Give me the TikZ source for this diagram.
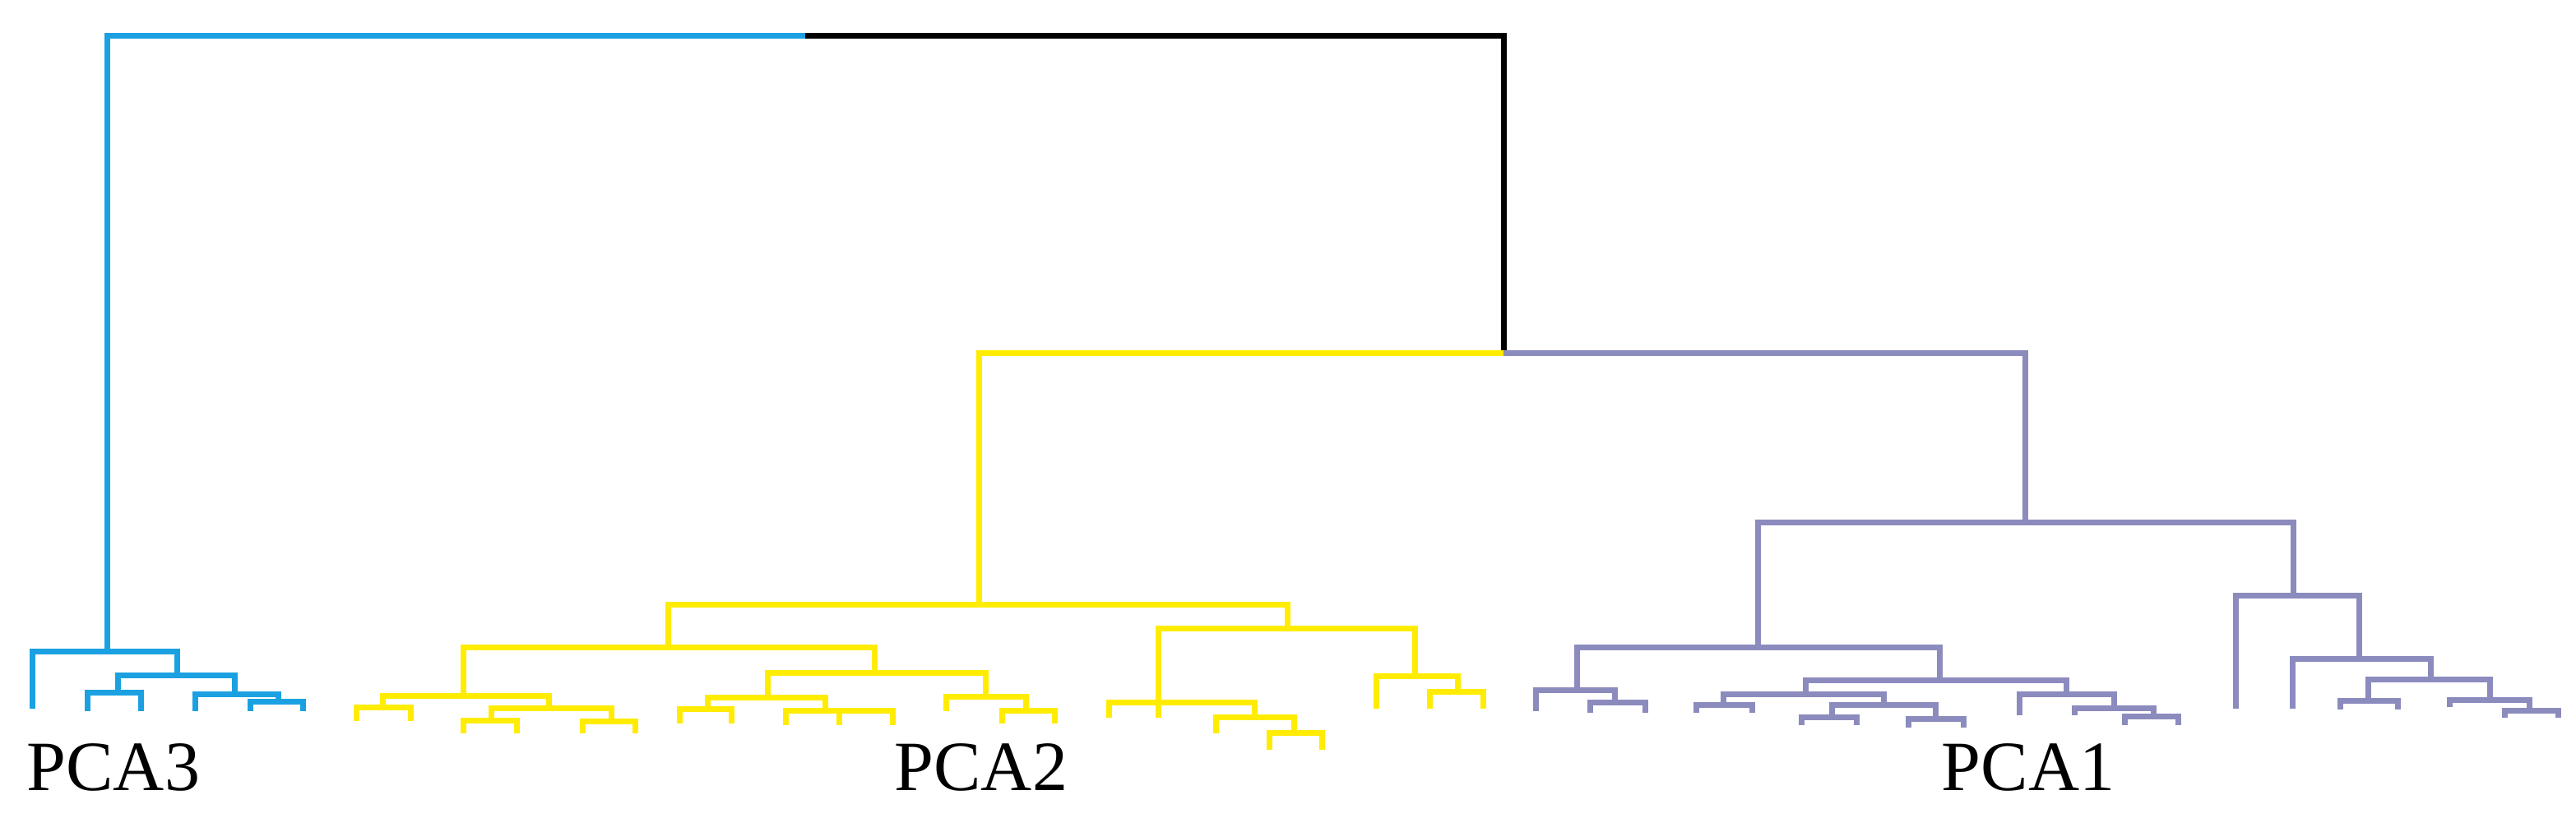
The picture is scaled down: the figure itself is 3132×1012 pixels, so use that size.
\documentclass[tikz,border=0pt]{standalone}
\usepackage{fontspec}
\setmainfont{Liberation Serif}
\definecolor{cBlue}{RGB}{27,161,226}
\definecolor{cYel}{RGB}{255,236,0}
\definecolor{cPur}{RGB}{140,139,190}
\newcommand\brk[6]{\draw[#1] (#2,#3) |- (#4,#6) -- (#4,#5);}
\newcommand\lf[4]{\draw[#1] (#2,#3) -- (#2,#4);}
\begin{document}
\begin{tikzpicture}[x=0.25pt,y=-0.25pt,
  ln/.style={line width=1.75pt,line join=miter},
  pc3/.style={ln,draw=cBlue},
  pc2/.style={ln,draw=cYel},
  pc1/.style={ln,draw=cPur},
  rt/.style={ln,draw=black},
  lab/.style={anchor=base west,inner sep=0pt,font=\fontsize{21.5}{24}\selectfont}]
\useasboundingbox (0,0) rectangle (3132,1012);
% root
\draw[pc3] (130,793) -- (130,44) -- (979,44);
\draw[rt] (979,44) -- (1828,44) -- (1828,430);
\draw[pc2] (1190,736) -- (1190,430) -- (1828,430);
\draw[pc1] (1828,430) -- (2462,430) -- (2462,636);
% PCA3
\brk{pc3}{39}{862}{215}{822}{793}
\brk{pc3}{143}{843}{285}{845}{822}
\brk{pc3}{106}{865}{171}{865}{843}
\brk{pc3}{237}{865}{338}{854}{845}
\brk{pc3}{304}{865}{368}{865}{854}
% PCA2
\brk{pc2}{812}{788}{1565}{765}{736}
\brk{pc2}{563}{847}{1063}{819}{788}
\brk{pc2}{465}{861}{667}{862}{847}
\brk{pc2}{433}{877}{499}{877}{861}
\brk{pc2}{597}{877}{743}{878}{862}
\brk{pc2}{563}{892}{628}{892}{877}
\brk{pc2}{708}{892}{772}{892}{878}
\brk{pc2}{933}{849}{1198}{848}{819}
\brk{pc2}{860}{863}{1003}{865}{849}
\brk{pc2}{826}{880}{889}{880}{863}
\brk{pc2}{955}{882}{1085}{882}{865}
\lf{pc2}{1020}{865}{882}
\brk{pc2}{1150}{865}{1247}{865}{848}
\brk{pc2}{1218}{880}{1282}{880}{865}
\brk{pc2}{1408}{855}{1720}{823}{765}
\brk{pc2}{1348}{873}{1525}{873}{855}
\lf{pc2}{1408}{855}{873}
\brk{pc2}{1478}{892}{1573}{892}{873}
\brk{pc2}{1543}{912}{1607}{912}{892}
\brk{pc2}{1673}{862}{1772}{842}{823}
\brk{pc2}{1738}{862}{1803}{862}{842}
% PCA1
\brk{pc1}{2137}{788}{2788}{725}{636}
\brk{pc1}{1917}{840}{2358}{828}{788}
\brk{pc1}{1867}{865}{1963}{855}{840}
\brk{pc1}{1933}{867}{2000}{867}{855}
\brk{pc1}{2195}{845}{2512}{845}{828}
\brk{pc1}{2095}{858}{2290}{858}{845}
\brk{pc1}{2062}{867}{2130}{867}{858}
\brk{pc1}{2227}{873}{2353}{875}{858}
\brk{pc1}{2190}{882}{2257}{882}{873}
\brk{pc1}{2320}{885}{2387}{885}{875}
\brk{pc1}{2455}{870}{2570}{862}{845}
\brk{pc1}{2522}{870}{2618}{872}{862}
\brk{pc1}{2583}{882}{2648}{882}{872}
\brk{pc1}{2718}{862}{2868}{802}{725}
\brk{pc1}{2787}{862}{2955}{827}{802}
\brk{pc1}{2879}{853}{3027}{852}{827}
\brk{pc1}{2845}{863}{2915}{863}{853}
\brk{pc1}{2978}{860}{3075}{865}{852}
\brk{pc1}{3045}{873}{3110}{873}{865}
% labels
\node[lab] (l3) at (32,961) {PCA3};
\node[lab] (l2) at (1087,961) {PCA2};
\node[lab] (l1) at (2360,961) {PCA1};
\end{tikzpicture}
\end{document}
